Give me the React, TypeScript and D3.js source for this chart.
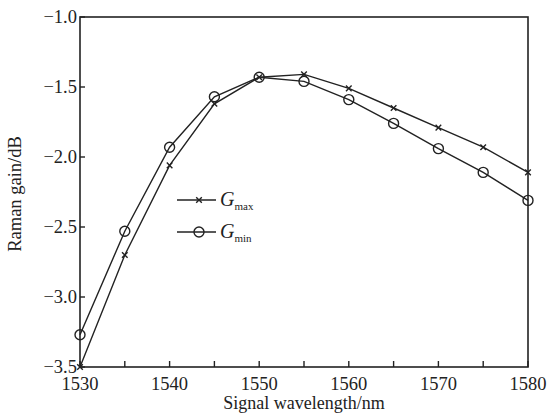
import * as React from "react";
import * as d3 from "d3";

const wavelengths = [1530, 1535, 1540, 1545, 1550, 1555, 1560, 1565, 1570, 1575, 1580];
const gMax = [-3.5, -2.7, -2.06, -1.62, -1.43, -1.41, -1.51, -1.65, -1.79, -1.93, -2.11];
const gMin = [-3.27, -2.53, -1.93, -1.57, -1.43, -1.46, -1.59, -1.76, -1.94, -2.11, -2.31];
const xTicks = [1530, 1535, 1540, 1545, 1550, 1555, 1560, 1565, 1570, 1575, 1580];
const xLabels = [1530, 1540, 1550, 1560, 1570, 1580];
const yTicks = [-1.0, -1.5, -2.0, -2.5, -3.0, -3.5];

const W = 551;
const H = 414;
const m = { left: 80, top: 17, right: 23, bottom: 47 };

export default function App() {
  const ref = React.useRef<SVGSVGElement>(null);

  React.useEffect(() => {
    const svg = d3.select(ref.current);
    svg.selectAll("*").remove();

    const x = d3.scaleLinear().domain([1530, 1580]).range([m.left, W - m.right]);
    const y = d3.scaleLinear().domain([-3.5, -1.0]).range([H - m.bottom, m.top]);
    const font = "'Liberation Serif', 'DejaVu Serif', serif";
    const ink = "#222";
    const fs = 18.5;

    svg.append("rect").attr("width", W).attr("height", H).attr("fill", "#fff");

    // frame
    svg.append("rect")
      .attr("x", x(1530)).attr("y", y(-1.0))
      .attr("width", x(1580) - x(1530)).attr("height", y(-3.5) - y(-1.0))
      .attr("fill", "none").attr("stroke", ink).attr("stroke-width", 1.6);

    // x ticks (inward)
    svg.append("g").selectAll("line").data(xTicks).enter().append("line")
      .attr("x1", (d) => x(d)).attr("x2", (d) => x(d))
      .attr("y1", y(-3.5)).attr("y2", y(-3.5) - 6)
      .attr("stroke", ink).attr("stroke-width", 1.4);
    svg.append("g").selectAll("text").data(xLabels).enter().append("text")
      .attr("x", (d) => x(d)).attr("y", y(-3.5) + 23)
      .attr("text-anchor", "middle")
      .attr("font-family", font).attr("font-size", fs).attr("fill", ink)
      .text((d) => d);

    // y ticks (inward)
    svg.append("g").selectAll("line").data(yTicks).enter().append("line")
      .attr("x1", x(1530)).attr("x2", x(1530) + 5)
      .attr("y1", (d) => y(d)).attr("y2", (d) => y(d))
      .attr("stroke", ink).attr("stroke-width", 1.4);
    svg.append("g").selectAll("text").data(yTicks).enter().append("text")
      .attr("x", x(1530) - 3).attr("y", (d) => y(d) + 6)
      .attr("text-anchor", "end")
      .attr("font-family", font).attr("font-size", fs).attr("fill", ink)
      .text((d) => "\u2212" + d3.format(".1f")(-d));

    // axis titles
    svg.append("text")
      .attr("x", (x(1530) + x(1580)) / 2).attr("y", H - 5)
      .attr("text-anchor", "middle")
      .attr("font-family", font).attr("font-size", 18).attr("fill", ink)
      .text("Signal wavelength/nm");
    svg.append("text")
      .attr("transform", `translate(21, ${(y(-1.0) + y(-3.5)) / 2 + 2}) rotate(-90)`)
      .attr("text-anchor", "middle")
      .attr("font-family", font).attr("font-size", fs).attr("fill", ink)
      .text("Raman gain/dB");

    const line = d3.line<number>()
      .x((_, i) => x(wavelengths[i]))
      .y((d) => y(d));

    svg.append("path").attr("d", line(gMax)!)
      .attr("fill", "none").attr("stroke", ink).attr("stroke-width", 1.4);
    svg.append("path").attr("d", line(gMin)!)
      .attr("fill", "none").attr("stroke", ink).attr("stroke-width", 1.4);

    const cross = (g: any, cx: number, cy: number) => {
      const s = 2.8;
      g.append("path")
        .attr("d", `M${cx - s},${cy - s}L${cx + s},${cy + s}M${cx - s},${cy + s}L${cx + s},${cy - s}`)
        .attr("stroke", ink).attr("stroke-width", 1.4);
    };
    const circ = (g: any, cx: number, cy: number) => {
      g.append("circle").attr("cx", cx).attr("cy", cy).attr("r", 5)
        .attr("fill", "none").attr("stroke", ink).attr("stroke-width", 1.4);
    };

    const gm = svg.append("g");
    gMax.forEach((d, i) => cross(gm, x(wavelengths[i]), y(d)));
    const gn = svg.append("g");
    gMin.forEach((d, i) => circ(gn, x(wavelengths[i]), y(d)));

    // legend
    const lg = svg.append("g");
    const items = [
      { sub: "max", cy: 200, mk: cross },
      { sub: "min", cy: 232, mk: circ },
    ];
    items.forEach((it) => {
      lg.append("line").attr("x1", 177).attr("x2", 216)
        .attr("y1", it.cy).attr("y2", it.cy)
        .attr("stroke", ink).attr("stroke-width", 1.4);
      it.mk(lg, 199, it.cy);
      const t = lg.append("text").attr("x", 220).attr("y", it.cy + 6)
        .attr("font-family", font).attr("fill", ink);
      t.append("tspan").attr("font-style", "italic").attr("font-size", 20).text("G");
      t.append("tspan").attr("font-size", 11).attr("dy", 4).text(it.sub);
    });
  }, []);

  return (
    <svg ref={ref} width={W} height={H} style={{ position: "absolute", left: 0, top: 0 }} />
  );
}
